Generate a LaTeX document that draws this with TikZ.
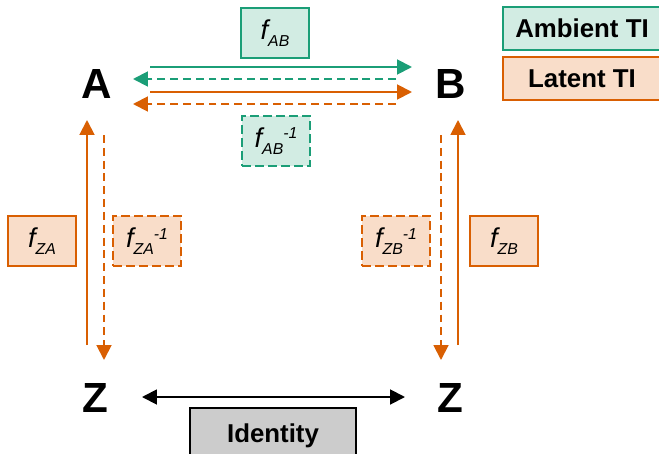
\documentclass[tikz,border=0pt]{standalone}
\usepackage{fontspec}
\setmainfont{Liberation Sans}
\usetikzlibrary{arrows.meta}
\definecolor{tgreen}{HTML}{1B9E77}
\definecolor{lgreen}{HTML}{D2ECE3}
\definecolor{torange}{HTML}{D95F02}
\definecolor{lorange}{HTML}{F9DDC9}
\definecolor{lgrey}{HTML}{CCCCCC}
\newcommand\flab[1]{{\fontsize{15.5}{18}\selectfont\itshape f\raisebox{-0.45ex}{\fontsize{9}{10}\selectfont #1}}}
\newcommand\flabinv[1]{{\fontsize{15.5}{18}\selectfont\itshape f\raisebox{-0.45ex}{\fontsize{9}{10}\selectfont #1}\raisebox{0.6ex}{\fontsize{9}{10}\selectfont -1}}}
\begin{document}
\begin{tikzpicture}[x=0.02cm,y=-0.02cm,
  letter/.style={font=\fontsize{24}{28}\selectfont\bfseries, inner sep=0pt},
  fbox/.style={draw, line width=1.1pt, minimum width=1.36cm, minimum height=1cm, inner sep=0pt},
  gbox/.style={fbox, draw=tgreen, fill=lgreen},
  obox/.style={fbox, draw=torange, fill=lorange},
  dbox/.style={dash pattern=on 5pt off 2.4pt},
  legend/.style={draw, line width=1.1pt, minimum width=3.16cm, minimum height=0.86cm, inner sep=0pt, font=\fontsize{14.7}{17}\selectfont\bfseries},
  arr/.style={line width=1.1pt, -{Triangle[length=8.5pt,width=8.5pt]}},
  darr/.style={arr, dash pattern=on 4.5pt off 2.8pt},
]
\useasboundingbox (0,0) rectangle (659,453);
\clip (0,0) rectangle (659,453);
\fill[white] (0,0) rectangle (659,453);

% letters
\node[letter] (A) at (97,84) {A};
\node[letter] (B) at (451,84) {B};
\node[letter] (ZL) at (95,398) {Z};
\node[letter] (ZR) at (450,398) {Z};

% function boxes
\node[gbox] (fab) at (275,33) {\flab{AB}};
\node[gbox, dbox] (fabi) at (276,141) {\flabinv{AB}};
\node[obox] (fza) at (42,241) {\flab{ZA}};
\node[obox, dbox] (fzai) at (147,241) {\flabinv{ZA}};
\node[obox, dbox] (fzbi) at (396,241) {\flabinv{ZB}};
\node[obox] (fzb) at (504,241) {\flab{ZB}};

% legend
\node[legend, draw=tgreen, fill=lgreen] (amb) at (582,28.5) {Ambient TI};
\node[legend, draw=torange, fill=lorange] (lat) at (582,78.5) {Latent TI};

% identity
\node[draw, line width=1.1pt, fill=lgrey, minimum width=3.32cm, minimum height=1.12cm, inner sep=0pt, font=\fontsize{14.7}{17}\selectfont\bfseries] (id) at (273,436) {Identity};

% connector endpoints
\coordinate (g1s) at (150,67);  \coordinate (g1e) at (412,67);
\coordinate (g2s) at (396,79);  \coordinate (g2e) at (133,79);
\coordinate (o1s) at (150,92);  \coordinate (o1e) at (412,92);
\coordinate (o2s) at (396,104); \coordinate (o2e) at (133,104);
\coordinate (la1s) at (87,345); \coordinate (la1e) at (87,120);
\coordinate (la2s) at (104,135); \coordinate (la2e) at (104,360);
\coordinate (rb1s) at (458,345); \coordinate (rb1e) at (458,120);
\coordinate (rb2s) at (441,135); \coordinate (rb2e) at (441,360);
\coordinate (zs) at (142,397); \coordinate (ze) at (405,397);

\draw[arr, tgreen] (g1s) -- (g1e);
\draw[darr, tgreen] (g2s) -- (g2e);
\draw[arr, torange] (o1s) -- (o1e);
\draw[darr, torange] (o2s) -- (o2e);
\draw[arr, torange] (la1s) -- (la1e);
\draw[darr, torange] (la2s) -- (la2e);
\draw[arr, torange] (rb1s) -- (rb1e);
\draw[darr, torange] (rb2s) -- (rb2e);
\draw[line width=1.1pt, {Triangle[length=8.5pt,width=8.5pt]}-{Triangle[length=8.5pt,width=8.5pt]}] (zs) -- (ze);
\end{tikzpicture}
\end{document}
